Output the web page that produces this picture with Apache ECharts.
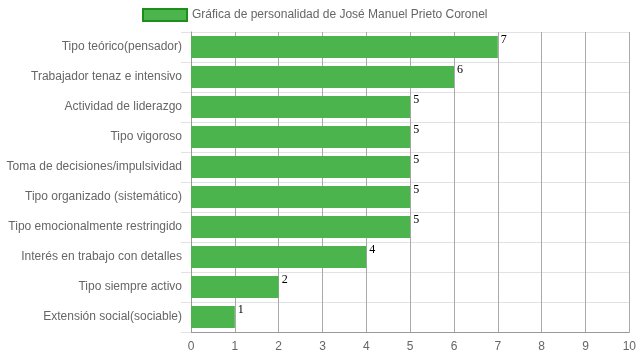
<!DOCTYPE html>
<html>
<head>
<meta charset="utf-8">
<script src="https://cdn.jsdelivr.net/npm/echarts@6/dist/echarts.min.js"></script>
<style>html,body{margin:0;padding:0;background:#fff}#c{width:639px;height:360px}</style>
</head>
<body>
<div id="c"></div>
<script>
const categories = [
  "Tipo teórico(pensador)",
  "Trabajador tenaz e intensivo",
  "Actividad de liderazgo",
  "Tipo vigoroso",
  "Toma de decisiones/impulsividad",
  "Tipo organizado (sistemático)",
  "Tipo emocionalmente restringido",
  "Interés en trabajo con detalles",
  "Tipo siempre activo",
  "Extensión social(sociable)"
];
const values = [7, 6, 5, 5, 5, 5, 5, 4, 2, 1];
const seriesName = "Gráfica de personalidad de José Manuel Prieto Coronel";

const chart = echarts.init(document.getElementById('c'), null, {renderer: 'canvas'});
const font = "'Liberation Sans', Arial, Helvetica, sans-serif";
chart.setOption({
  animation: false,
  backgroundColor: '#ffffff',
  textStyle: {fontFamily: font},
  legend: {
    top: 8,
    left: 142,
    padding: 0,
    icon: 'rect',
    itemWidth: 44,
    itemHeight: 12,
    itemGap: 10,
    textStyle: {color: '#666', fontSize: 12, fontFamily: font},
    itemStyle: {color: '#4cb44c', borderColor: '#1a8f1a', borderWidth: 2},
    data: [seriesName]
  },
  grid: {left: 191, right: 9, top: 32, bottom: 28, containLabel: false},
  xAxis: {
    type: 'value', min: 0, max: 10, interval: 1,
    axisLine: {show: true, lineStyle: {color: '#999', width: 1}},
    axisTick: {show: false},
    axisLabel: {color: '#666', fontSize: 12, margin: 9, fontFamily: font},
    splitLine: {show: true, lineStyle: {color: '#aaa', width: 1}}
  },
  yAxis: {
    type: 'category', inverse: true, data: categories,
    axisLine: {show: true, lineStyle: {color: '#999'}},
    axisTick: {show: true, length: 10, lineStyle: {color: '#e2e2e2'}},
    axisLabel: {color: '#666', fontSize: 12, margin: 9, fontFamily: font},
    splitLine: {show: true, lineStyle: {color: '#e2e2e2', width: 1}}
  },
  series: [{
    name: seriesName,
    type: 'bar',
    data: values,
    barWidth: 22,
    itemStyle: {color: '#4cb44c'},
    label: {
      show: true,
      position: ['100%', 0],
      offset: [3, -2],
      align: 'left',
      verticalAlign: 'top',
      color: '#000',
      fontSize: 12,
      fontFamily: "'Liberation Serif', 'Times New Roman', serif"
    }
  }]
});
</script>
</body>
</html>
